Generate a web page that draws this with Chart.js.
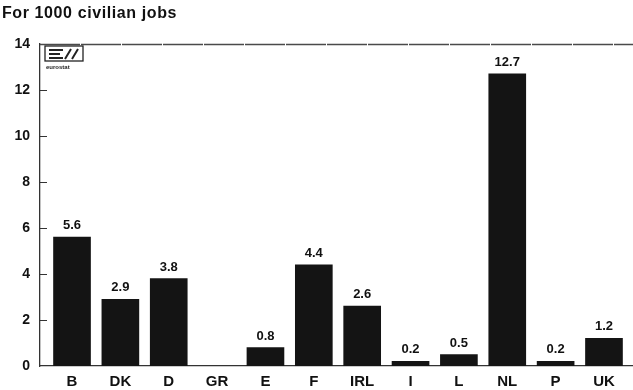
<!DOCTYPE html>
<html>
<head>
<meta charset="utf-8">
<script src="https://cdn.jsdelivr.net/npm/chart.js@4.4.1/dist/chart.umd.min.js"></script>
<style>
  html, body { margin: 0; padding: 0; background: #ffffff; }
  #wrap { width: 633px; height: 390px; position: relative; }
</style>
</head>
<body>
<div id="wrap"><canvas id="c" width="633" height="390"></canvas></div>
<script>
// Countries and values (per 1000 civilian jobs)
const countries = ['B', 'DK', 'D', 'GR', 'E', 'F', 'IRL', 'I', 'L', 'NL', 'P', 'UK'];
const jobsPer1000 = [5.6, 2.9, 3.8, null, 0.8, 4.4, 2.6, 0.2, 0.5, 12.7, 0.2, 1.2];
const yTicks = [0, 2, 4, 6, 8, 10, 12, 14];
const chartTitle = 'For 1000 civilian jobs';

const BOLD = "'Liberation Sans', Arial, Helvetica, sans-serif";
const INK = '#111111';

// Bars positioned on a numeric x scale so the first and last categories sit where wanted
const points = jobsPer1000.map((v, i) => ({ x: i, y: v }));

const decorPlugin = {
  id: 'decor',
  afterDraw(chart) {
    const { ctx, chartArea: a, scales } = chart;
    const ys = scales.y;
    ctx.save();
    // title
    ctx.fillStyle = INK;
    ctx.font = "bold 16px " + BOLD;
    ctx.letterSpacing = '0.6px';
    ctx.textBaseline = 'middle';
    ctx.textAlign = 'left';
    ctx.fillText(chartTitle, 2, 14);
    ctx.letterSpacing = '0px';

    // top frame line
    ctx.strokeStyle = '#4a4a4a';
    ctx.lineWidth = 1.6;
    ctx.setLineDash([40, 1]);
    ctx.beginPath();
    ctx.moveTo(a.left, a.top + 0.5);
    ctx.lineTo(633, a.top + 0.5);
    ctx.stroke();
    ctx.setLineDash([]);

    // inward tick marks on the value axis
    ctx.strokeStyle = '#333333';
    ctx.lineWidth = 1;
    yTicks.forEach(t => {
      if (t === 0 || t === 14) return;
      const y = Math.round(ys.getPixelForValue(t)) + 0.5;
      ctx.beginPath();
      ctx.moveTo(a.left, y);
      ctx.lineTo(a.left + 7, y);
      ctx.stroke();
    });

    // eurostat mark
    const lx = a.left + 5, ly = a.top + 2;
    ctx.strokeStyle = '#222';
    ctx.lineWidth = 1.3;
    ctx.strokeRect(lx, ly, 38, 15);
    ctx.fillStyle = '#222';
    // stylised E
    ctx.fillRect(lx + 4, ly + 3, 14, 2);
    ctx.fillRect(lx + 4, ly + 7, 11, 2);
    ctx.fillRect(lx + 4, ly + 11, 14, 2);
    // slashes
    ctx.lineWidth = 2;
    ctx.beginPath();
    ctx.moveTo(lx + 20, ly + 13); ctx.lineTo(lx + 26, ly + 3);
    ctx.moveTo(lx + 27, ly + 13); ctx.lineTo(lx + 33, ly + 3);
    ctx.stroke();
    ctx.font = "bold 6px " + BOLD;
    ctx.textAlign = 'left';
    ctx.fillText('eurostat', lx + 1, ly + 21);

    // value labels above bars
    const meta = chart.getDatasetMeta(0);
    ctx.font = "bold 13px " + BOLD;
    ctx.fillStyle = INK;
    ctx.textAlign = 'center';
    ctx.textBaseline = 'bottom';
    meta.data.forEach((bar, i) => {
      const v = jobsPer1000[i];
      if (v === null) return;
      ctx.fillText(v.toFixed(1), bar.x, bar.y - 5);
    });
    ctx.restore();
  }
};

new Chart(document.getElementById('c'), {
  type: 'bar',
  data: {
    datasets: [{
      data: points,
      backgroundColor: '#141414',
      borderWidth: 0,
      barThickness: 37
    }]
  },
  options: {
    responsive: false,
    animation: false,
    layout: { padding: { top: 44, right: 0, left: 0, bottom: 0 } },
    plugins: { legend: { display: false }, tooltip: { enabled: false } },
    scales: {
      x: {
        type: 'linear',
        offset: false,
        min: -0.662,
        max: 11.6,
        afterBuildTicks(scale) { scale.ticks = countries.map((_, i) => ({ value: i })); },
        afterFit(scale) { scale.height = 24; },
        grid: { display: false, drawTicks: false },
        border: { display: true, color: '#333333', width: 1.3 },
        ticks: {
          autoSkip: false,
          maxRotation: 0,
          padding: 7,
          color: INK,
          font: { family: BOLD, size: 15, weight: 'bold' },
          callback: (v) => countries[v] ?? ''
        }
      },
      y: {
        min: 0,
        max: 14,
        afterBuildTicks(scale) { scale.ticks = yTicks.map(v => ({ value: v })); },
        afterFit(scale) { scale.width = 40; },
        grid: { display: false, drawTicks: false },
        border: { display: true, color: '#333333', width: 1.3 },
        ticks: {
          padding: 10,
          color: INK,
          font: { family: BOLD, size: 14, weight: 'bold' }
        }
      }
    }
  },
  plugins: [decorPlugin]
});
</script>
</body>
</html>
